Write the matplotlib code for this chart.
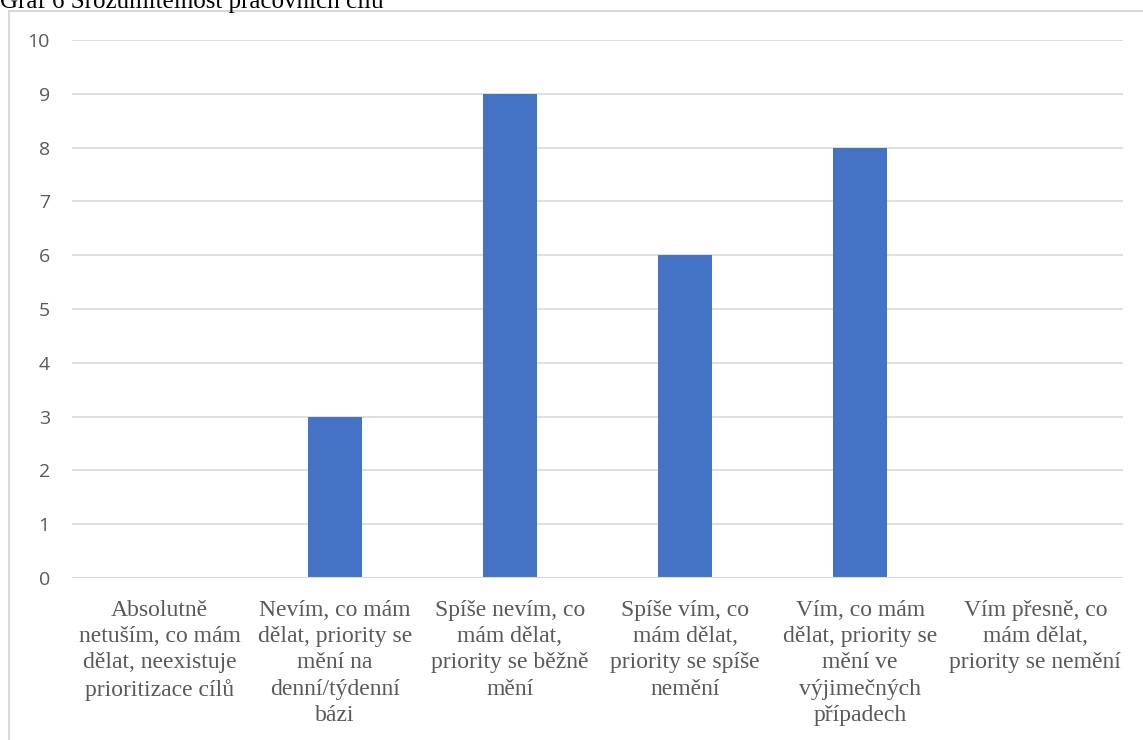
import matplotlib
matplotlib.use("Agg")
import matplotlib.pyplot as plt
from matplotlib.patches import Rectangle

categories = [
    "Absolutně\nnetuším, co mám\ndělat, neexistuje\nprioritizace cílů",
    "Nevím, co mám\ndělat, priority se\nmění na\ndenní/týdenní\nbázi",
    "Spíše nevím, co\nmám dělat,\npriority se běžně\nmění",
    "Spíše vím, co\nmám dělat,\npriority se spíše\nnemění",
    "Vím, co mám\ndělat, priority se\nmění ve\nvýjimečných\npřípadech",
    "Vím přesně, co\nmám dělat,\npriority se nemění",
]
values = [0, 3, 9, 6, 8, 0]
yticks = list(range(0, 11))
title = "Graf 6 Srozumitelnost pracovních cílů"

W, H = 1143, 740
fig = plt.figure(figsize=(W / 100, H / 100), dpi=100)

# chart frame
fig.patches.append(Rectangle((9 / W, -0.1), 1.2, (H - 11) / H + 0.1,
                             transform=fig.transFigure, fill=False,
                             edgecolor="#d9d9d9", linewidth=1.5))

ax = fig.add_axes([72 / W, (H - 578) / H, (1123 - 72) / W, (578 - 40) / H])
x = range(len(categories))
ax.bar(x, values, width=0.31, color="#4472c4", zorder=3)
ax.set_xlim(-0.5, len(categories) - 0.5)
ax.set_ylim(0, 10)
ax.set_yticks(yticks)
ax.grid(axis="y", color="#d9d9d9", linewidth=1.2, zorder=0)
for s in ax.spines.values():
    s.set_visible(False)
ax.axhline(0, color="#d9d9d9", linewidth=1.5, zorder=4)
ax.tick_params(axis="both", length=0)
ax.tick_params(axis="y", pad=16, labelsize=14, labelcolor="#595959")
ax.set_yticklabels([str(v) for v in yticks], family="Open Sans")
ax.set_xticks(list(x))
ax.set_xticklabels(categories, family="Liberation Serif", fontsize=17,
                   color="#595959", linespacing=1.34)
ax.tick_params(axis="x", pad=15.5)

fig.text(0 / W, (H - 8) / H, title, family="Liberation Serif", fontsize=18,
         color="black", va="baseline", ha="left")

fig.savefig("out.png", dpi=100)
